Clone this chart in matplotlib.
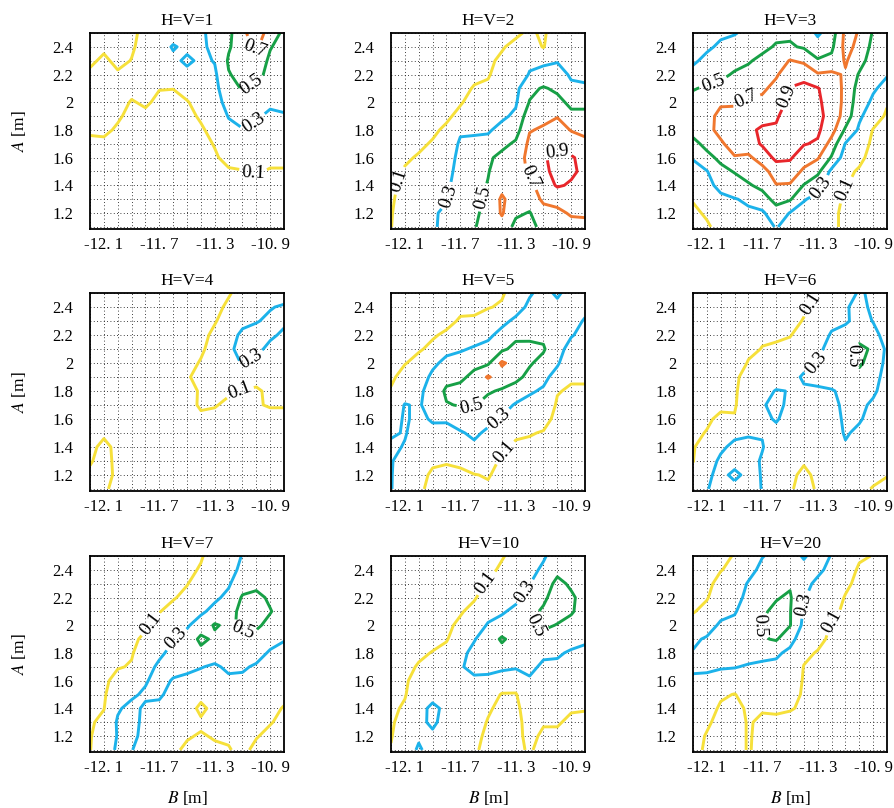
import numpy as np
import matplotlib
matplotlib.use("Agg")
import matplotlib.pyplot as plt
from matplotlib.ticker import MultipleLocator, FixedLocator

plt.rcParams["font.family"] = ["Liberation Serif", "DejaVu Serif"]
plt.rcParams["mathtext.fontset"] = "stix"

# grid of the field: B columns (left->right), A rows (top->bottom)
b_grid = np.linspace(-12.2, -10.8, 15)
a_grid = np.linspace(2.5, 1.1, 15)

levels = [0.1, 0.3, 0.5, 0.7, 0.9]
level_colors = ["#f6e03a", "#1cb2ea", "#17a046", "#f0772e", "#e8262b"]

titles = ["H=V=1", "H=V=2", "H=V=3", "H=V=4", "H=V=5", "H=V=6", "H=V=7", "H=V=10", "H=V=20"]
xtick_vals = [-12.1, -11.7, -11.3, -10.9]
xtick_text = ["-12. 1", "-11. 7", "-11. 3", "-10. 9"]
ytick_vals = [1.2, 1.4, 1.6, 1.8, 2.0, 2.2, 2.4]
ytick_text = ["1.2", "1.4", "1.6", "1.8", "2", "2.2", "2.4"]

# each inner list = one B column, values from A=2.5 down to A=1.1
z_hv1 = [
    [0.05, 0.05, 0.07, 0.13, 0.15, 0.16, 0.15, 0.12, 0.07, 0.05, 0.04, 0.03, 0.03, 0.03, 0.03],
    [0.05, 0.07, 0.13, 0.16, 0.17, 0.17, 0.16, 0.13, 0.07, 0.05, 0.04, 0.03, 0.03, 0.03, 0.03],
    [0.04, 0.05, 0.06, 0.12, 0.16, 0.15, 0.12, 0.08, 0.05, 0.04, 0.03, 0.03, 0.03, 0.03, 0.03],
    [0.07, 0.08, 0.105, 0.15, 0.14, 0.09, 0.06, 0.05, 0.04, 0.04, 0.03, 0.03, 0.03, 0.03, 0.03],
    [0.14, 0.16, 0.17, 0.17, 0.16, 0.12, 0.07, 0.05, 0.04, 0.04, 0.03, 0.03, 0.03, 0.03, 0.03],
    [0.18, 0.2, 0.2, 0.18, 0.105, 0.07, 0.05, 0.04, 0.04, 0.03, 0.03, 0.03, 0.03, 0.03, 0.03],
    [0.2, 0.32, 0.25, 0.2, 0.102, 0.07, 0.05, 0.04, 0.04, 0.03, 0.03, 0.03, 0.03, 0.03, 0.03],
    [0.22, 0.25, 0.34, 0.24, 0.16, 0.09, 0.06, 0.05, 0.04, 0.03, 0.03, 0.03, 0.03, 0.03, 0.03],
    [0.27, 0.27, 0.26, 0.24, 0.2, 0.16, 0.12, 0.08, 0.05, 0.04, 0.03, 0.03, 0.03, 0.03, 0.03],
    [0.36, 0.34, 0.31, 0.27, 0.24, 0.21, 0.18, 0.15, 0.11, 0.08, 0.05, 0.04, 0.03, 0.03, 0.03],
    [0.45, 0.48, 0.52, 0.49, 0.45, 0.38, 0.31, 0.25, 0.2, 0.15, 0.08, 0.05, 0.04, 0.03, 0.03],
    [0.66, 0.6, 0.58, 0.55, 0.51, 0.45, 0.37, 0.29, 0.24, 0.18, 0.09, 0.06, 0.04, 0.03, 0.03],
    [0.8, 0.74, 0.6, 0.55, 0.46, 0.4, 0.32, 0.27, 0.2, 0.15, 0.11, 0.06, 0.04, 0.03, 0.03],
    [0.62, 0.51, 0.47, 0.45, 0.4, 0.33, 0.27, 0.22, 0.18, 0.13, 0.09, 0.06, 0.04, 0.03, 0.03],
    [0.45, 0.44, 0.42, 0.4, 0.37, 0.33, 0.29, 0.24, 0.18, 0.13, 0.09, 0.06, 0.04, 0.03, 0.03],
]
z_hv2 = [
    [0.02, 0.02, 0.02, 0.02, 0.02, 0.03, 0.03, 0.03, 0.04, 0.05, 0.06, 0.07, 0.08, 0.09, 0.095],
    [0.02, 0.02, 0.02, 0.02, 0.03, 0.03, 0.04, 0.05, 0.06, 0.085, 0.11, 0.14, 0.16, 0.18, 0.2],
    [0.02, 0.02, 0.03, 0.03, 0.04, 0.05, 0.06, 0.07, 0.08, 0.11, 0.15, 0.18, 0.21, 0.24, 0.26],
    [0.02, 0.03, 0.03, 0.04, 0.05, 0.06, 0.07, 0.08, 0.11, 0.15, 0.2, 0.24, 0.26, 0.28, 0.28],
    [0.03, 0.04, 0.05, 0.05, 0.06, 0.07, 0.08, 0.12, 0.16, 0.2, 0.23, 0.26, 0.29, 0.33, 0.34],
    [0.04, 0.05, 0.06, 0.07, 0.08, 0.09, 0.13, 0.27, 0.33, 0.36, 0.38, 0.4, 0.42, 0.44, 0.45],
    [0.05, 0.06, 0.07, 0.085, 0.105, 0.14, 0.2, 0.28, 0.33, 0.37, 0.4, 0.43, 0.45, 0.47, 0.49],
    [0.06, 0.07, 0.08, 0.09, 0.12, 0.16, 0.22, 0.28, 0.35, 0.47, 0.49, 0.51, 0.54, 0.55, 0.56],
    [0.07, 0.09, 0.12, 0.15, 0.19, 0.24, 0.27, 0.35, 0.45, 0.55, 0.6, 0.64, 0.73, 0.72, 0.62],
    [0.08, 0.13, 0.17, 0.21, 0.25, 0.28, 0.33, 0.42, 0.53, 0.6, 0.64, 0.66, 0.6, 0.53, 0.45],
    [0.12, 0.18, 0.27, 0.31, 0.45, 0.51, 0.62, 0.69, 0.74, 0.76, 0.72, 0.65, 0.58, 0.49, 0.45],
    [0.08, 0.09, 0.27, 0.35, 0.52, 0.56, 0.66, 0.72, 0.82, 0.89, 0.87, 0.8, 0.74, 0.62, 0.55],
    [0.18, 0.25, 0.29, 0.36, 0.46, 0.56, 0.69, 0.78, 0.86, 0.93, 0.94, 0.92, 0.76, 0.66, 0.6],
    [0.2, 0.23, 0.27, 0.28, 0.33, 0.45, 0.55, 0.69, 0.8, 0.92, 0.93, 0.88, 0.8, 0.72, 0.64],
    [0.18, 0.2, 0.24, 0.27, 0.32, 0.45, 0.55, 0.66, 0.74, 0.84, 0.86, 0.83, 0.78, 0.72, 0.66],
]
z_hv3 = [
    [0.2, 0.23, 0.28, 0.34, 0.49, 0.55, 0.58, 0.56, 0.45, 0.31, 0.25, 0.18, 0.11, 0.07, 0.05],
    [0.22, 0.28, 0.33, 0.42, 0.52, 0.6, 0.65, 0.66, 0.55, 0.45, 0.29, 0.25, 0.18, 0.12, 0.08],
    [0.28, 0.32, 0.38, 0.46, 0.55, 0.68, 0.74, 0.74, 0.68, 0.54, 0.45, 0.35, 0.26, 0.2, 0.15],
    [0.29, 0.36, 0.44, 0.52, 0.6, 0.68, 0.75, 0.78, 0.76, 0.69, 0.51, 0.42, 0.29, 0.23, 0.18],
    [0.34, 0.4, 0.48, 0.56, 0.65, 0.72, 0.8, 0.86, 0.82, 0.66, 0.58, 0.48, 0.33, 0.27, 0.22],
    [0.38, 0.45, 0.55, 0.62, 0.67, 0.74, 0.83, 0.93, 0.92, 0.8, 0.62, 0.55, 0.42, 0.27, 0.23],
    [0.45, 0.52, 0.6, 0.68, 0.75, 0.8, 0.88, 0.92, 0.94, 0.94, 0.8, 0.69, 0.56, 0.42, 0.31],
    [0.47, 0.52, 0.71, 0.8, 0.91, 0.95, 0.98, 1.0, 0.97, 0.92, 0.82, 0.68, 0.52, 0.29, 0.24],
    [0.42, 0.48, 0.66, 0.86, 0.93, 0.95, 0.96, 0.94, 0.91, 0.8, 0.66, 0.49, 0.31, 0.25, 0.2],
    [0.27, 0.38, 0.52, 0.72, 0.91, 0.93, 0.95, 0.93, 0.88, 0.72, 0.55, 0.35, 0.26, 0.2, 0.17],
    [0.4, 0.46, 0.55, 0.74, 0.8, 0.82, 0.83, 0.78, 0.62, 0.48, 0.25, 0.22, 0.17, 0.14, 0.12],
    [0.75, 0.76, 0.72, 0.68, 0.66, 0.65, 0.62, 0.47, 0.29, 0.2, 0.14, 0.11, 0.07, 0.06, 0.08],
    [0.69, 0.65, 0.58, 0.48, 0.42, 0.38, 0.33, 0.27, 0.2, 0.14, 0.08, 0.05, 0.04, 0.04, 0.04],
    [0.48, 0.44, 0.4, 0.36, 0.32, 0.27, 0.2, 0.09, 0.06, 0.04, 0.04, 0.04, 0.04, 0.04, 0.04],
    [0.45, 0.4, 0.36, 0.31, 0.25, 0.12, 0.07, 0.05, 0.04, 0.04, 0.04, 0.04, 0.04, 0.04, 0.04],
]
z_hv4 = [
    [0.03, 0.03, 0.03, 0.03, 0.03, 0.03, 0.03, 0.04, 0.04, 0.05, 0.06, 0.07, 0.09, 0.12, 0.11],
    [0.03, 0.03, 0.03, 0.03, 0.03, 0.03, 0.04, 0.04, 0.05, 0.06, 0.08, 0.13, 0.14, 0.15, 0.12],
    [0.03, 0.03, 0.03, 0.03, 0.03, 0.03, 0.04, 0.04, 0.05, 0.05, 0.06, 0.07, 0.07, 0.07, 0.06],
    [0.03, 0.03, 0.03, 0.03, 0.03, 0.04, 0.04, 0.04, 0.04, 0.04, 0.05, 0.05, 0.05, 0.05, 0.05],
    [0.03, 0.03, 0.03, 0.03, 0.03, 0.04, 0.04, 0.04, 0.04, 0.04, 0.05, 0.05, 0.05, 0.05, 0.05],
    [0.03, 0.03, 0.03, 0.03, 0.03, 0.04, 0.04, 0.04, 0.04, 0.04, 0.05, 0.05, 0.05, 0.05, 0.05],
    [0.03, 0.03, 0.04, 0.04, 0.04, 0.04, 0.05, 0.05, 0.05, 0.05, 0.05, 0.05, 0.05, 0.05, 0.05],
    [0.04, 0.04, 0.04, 0.05, 0.05, 0.06, 0.09, 0.07, 0.05, 0.05, 0.05, 0.05, 0.05, 0.05, 0.05],
    [0.04, 0.05, 0.05, 0.06, 0.08, 0.11, 0.13, 0.11, 0.12, 0.07, 0.05, 0.05, 0.05, 0.05, 0.05],
    [0.07, 0.07, 0.09, 0.13, 0.15, 0.16, 0.16, 0.13, 0.11, 0.06, 0.05, 0.05, 0.05, 0.05, 0.05],
    [0.09, 0.12, 0.16, 0.22, 0.27, 0.24, 0.2, 0.12, 0.07, 0.05, 0.05, 0.05, 0.05, 0.05, 0.05],
    [0.14, 0.2, 0.25, 0.34, 0.35, 0.31, 0.2, 0.09, 0.05, 0.04, 0.04, 0.04, 0.04, 0.04, 0.04],
    [0.2, 0.26, 0.29, 0.36, 0.33, 0.26, 0.15, 0.08, 0.09, 0.05, 0.04, 0.04, 0.04, 0.04, 0.04],
    [0.24, 0.29, 0.33, 0.32, 0.27, 0.22, 0.17, 0.13, 0.11, 0.06, 0.04, 0.04, 0.04, 0.04, 0.04],
    [0.22, 0.32, 0.32, 0.28, 0.24, 0.2, 0.17, 0.14, 0.11, 0.06, 0.04, 0.04, 0.04, 0.04, 0.04],
]
z_hv5 = [
    [0.03, 0.03, 0.04, 0.05, 0.06, 0.07, 0.08, 0.11, 0.16, 0.22, 0.28, 0.33, 0.31, 0.31, 0.31],
    [0.03, 0.04, 0.05, 0.06, 0.08, 0.095, 0.14, 0.2, 0.31, 0.32, 0.31, 0.29, 0.24, 0.2, 0.17],
    [0.03, 0.05, 0.06, 0.08, 0.09, 0.13, 0.2, 0.26, 0.28, 0.26, 0.24, 0.2, 0.17, 0.14, 0.12],
    [0.03, 0.05, 0.07, 0.09, 0.12, 0.26, 0.34, 0.38, 0.38, 0.32, 0.25, 0.18, 0.12, 0.08, 0.07],
    [0.04, 0.06, 0.075, 0.115, 0.25, 0.35, 0.44, 0.53, 0.49, 0.33, 0.22, 0.15, 0.11, 0.07, 0.06],
    [0.05, 0.08, 0.11, 0.2, 0.28, 0.38, 0.46, 0.56, 0.51, 0.4, 0.28, 0.2, 0.12, 0.08, 0.06],
    [0.06, 0.085, 0.11, 0.22, 0.32, 0.45, 0.55, 0.58, 0.51, 0.42, 0.34, 0.26, 0.18, 0.095, 0.07],
    [0.07, 0.095, 0.14, 0.26, 0.36, 0.47, 0.72, 0.52, 0.44, 0.36, 0.26, 0.2, 0.15, 0.11, 0.08],
    [0.09, 0.11, 0.25, 0.36, 0.46, 0.73, 0.6, 0.48, 0.38, 0.28, 0.2, 0.13, 0.08, 0.06, 0.05],
    [0.14, 0.22, 0.34, 0.45, 0.56, 0.62, 0.55, 0.42, 0.28, 0.2, 0.12, 0.08, 0.06, 0.05, 0.05],
    [0.28, 0.34, 0.4, 0.46, 0.55, 0.52, 0.45, 0.32, 0.25, 0.18, 0.11, 0.07, 0.05, 0.05, 0.05],
    [0.36, 0.38, 0.42, 0.46, 0.52, 0.44, 0.34, 0.28, 0.22, 0.15, 0.09, 0.06, 0.05, 0.05, 0.05],
    [0.27, 0.35, 0.38, 0.37, 0.35, 0.32, 0.24, 0.11, 0.08, 0.06, 0.05, 0.05, 0.05, 0.05, 0.05],
    [0.38, 0.36, 0.34, 0.31, 0.25, 0.18, 0.12, 0.08, 0.06, 0.05, 0.05, 0.05, 0.05, 0.05, 0.05],
    [0.36, 0.33, 0.29, 0.26, 0.2, 0.15, 0.12, 0.08, 0.06, 0.05, 0.05, 0.05, 0.05, 0.05, 0.05],
]
z_hv6 = [
    [0.02, 0.02, 0.03, 0.03, 0.04, 0.04, 0.05, 0.05, 0.06, 0.07, 0.08, 0.09, 0.095, 0.14, 0.18],
    [0.02, 0.03, 0.03, 0.04, 0.04, 0.05, 0.05, 0.06, 0.07, 0.085, 0.105, 0.16, 0.22, 0.26, 0.29],
    [0.03, 0.03, 0.04, 0.04, 0.05, 0.05, 0.06, 0.07, 0.08, 0.12, 0.2, 0.27, 0.33, 0.36, 0.37],
    [0.03, 0.04, 0.04, 0.05, 0.05, 0.06, 0.07, 0.07, 0.08, 0.115, 0.26, 0.34, 0.38, 0.25, 0.37],
    [0.03, 0.04, 0.05, 0.06, 0.085, 0.105, 0.16, 0.22, 0.24, 0.26, 0.28, 0.35, 0.37, 0.36, 0.35],
    [0.04, 0.05, 0.06, 0.09, 0.1025, 0.16, 0.2, 0.24, 0.28, 0.25, 0.29, 0.31, 0.28, 0.29, 0.295],
    [0.05, 0.06, 0.07, 0.095, 0.105, 0.17, 0.21, 0.31, 0.36, 0.32, 0.24, 0.2, 0.17, 0.14, 0.12],
    [0.06, 0.07, 0.08, 0.095, 0.13, 0.17, 0.22, 0.295, 0.25, 0.22, 0.2, 0.17, 0.14, 0.12, 0.11],
    [0.08, 0.09, 0.104, 0.14, 0.18, 0.23, 0.33, 0.27, 0.24, 0.21, 0.19, 0.15, 0.11, 0.08, 0.07],
    [0.098, 0.13, 0.16, 0.2, 0.25, 0.31, 0.34, 0.28, 0.24, 0.22, 0.19, 0.16, 0.14, 0.12, 0.11],
    [0.16, 0.2, 0.25, 0.32, 0.38, 0.42, 0.43, 0.28, 0.25, 0.23, 0.2, 0.17, 0.15, 0.13, 0.12],
    [0.22, 0.29, 0.28, 0.36, 0.44, 0.46, 0.42, 0.36, 0.34, 0.33, 0.32, 0.28, 0.2, 0.17, 0.15],
    [0.32, 0.33, 0.35, 0.42, 0.55, 0.53, 0.44, 0.38, 0.34, 0.32, 0.26, 0.2, 0.17, 0.14, 0.12],
    [0.27, 0.28, 0.295, 0.34, 0.47, 0.42, 0.36, 0.33, 0.27, 0.23, 0.2, 0.17, 0.14, 0.12, 0.095],
    [0.22, 0.23, 0.24, 0.25, 0.26, 0.25, 0.24, 0.22, 0.2, 0.18, 0.16, 0.14, 0.12, 0.105, 0.07],
]
z_hv7 = [
    [0.02, 0.02, 0.02, 0.03, 0.03, 0.03, 0.04, 0.04, 0.05, 0.05, 0.06, 0.07, 0.08, 0.09, 0.095],
    [0.02, 0.02, 0.03, 0.03, 0.04, 0.04, 0.05, 0.05, 0.06, 0.07, 0.08, 0.095, 0.14, 0.18, 0.2],
    [0.03, 0.03, 0.04, 0.04, 0.05, 0.05, 0.06, 0.07, 0.09, 0.15, 0.22, 0.28, 0.32, 0.31, 0.33],
    [0.03, 0.04, 0.04, 0.05, 0.06, 0.07, 0.08, 0.09, 0.11, 0.2, 0.27, 0.35, 0.4, 0.38, 0.31],
    [0.03, 0.04, 0.05, 0.06, 0.07, 0.085, 0.12, 0.17, 0.22, 0.28, 0.33, 0.27, 0.22, 0.2, 0.18],
    [0.04, 0.05, 0.06, 0.075, 0.095, 0.14, 0.2, 0.26, 0.34, 0.38, 0.33, 0.25, 0.2, 0.17, 0.15],
    [0.05, 0.06, 0.07, 0.09, 0.14, 0.2, 0.29, 0.36, 0.38, 0.28, 0.23, 0.19, 0.16, 0.14, 0.12],
    [0.06, 0.075, 0.095, 0.13, 0.19, 0.28, 0.36, 0.42, 0.34, 0.26, 0.2, 0.16, 0.13, 0.11, 0.08],
    [0.09, 0.11, 0.15, 0.2, 0.27, 0.38, 0.55, 0.44, 0.31, 0.22, 0.14, 0.07, 0.12, 0.09, 0.07],
    [0.15, 0.18, 0.22, 0.27, 0.35, 0.52, 0.46, 0.4, 0.27, 0.21, 0.17, 0.14, 0.12, 0.11, 0.08],
    [0.2, 0.24, 0.28, 0.34, 0.42, 0.46, 0.45, 0.4, 0.34, 0.26, 0.2, 0.16, 0.13, 0.11, 0.095],
    [0.31, 0.34, 0.42, 0.52, 0.56, 0.54, 0.44, 0.38, 0.32, 0.27, 0.22, 0.18, 0.15, 0.13, 0.12],
    [0.34, 0.38, 0.45, 0.55, 0.58, 0.53, 0.44, 0.36, 0.28, 0.22, 0.18, 0.15, 0.12, 0.105, 0.08],
    [0.34, 0.37, 0.42, 0.47, 0.51, 0.45, 0.36, 0.28, 0.22, 0.18, 0.15, 0.12, 0.105, 0.08, 0.06],
    [0.33, 0.35, 0.38, 0.4, 0.42, 0.38, 0.31, 0.25, 0.2, 0.16, 0.12, 0.095, 0.08, 0.06, 0.05],
]
z_hv10 = [
    [0.02, 0.02, 0.02, 0.03, 0.03, 0.03, 0.04, 0.04, 0.05, 0.05, 0.06, 0.07, 0.08, 0.09, 0.11],
    [0.02, 0.02, 0.03, 0.03, 0.04, 0.04, 0.05, 0.06, 0.07, 0.08, 0.09, 0.12, 0.16, 0.2, 0.22],
    [0.03, 0.03, 0.04, 0.04, 0.05, 0.05, 0.06, 0.08, 0.11, 0.16, 0.2, 0.24, 0.26, 0.28, 0.32],
    [0.03, 0.04, 0.04, 0.05, 0.06, 0.07, 0.07, 0.105, 0.16, 0.2, 0.24, 0.34, 0.33, 0.27, 0.24],
    [0.04, 0.04, 0.05, 0.06, 0.07, 0.08, 0.09, 0.14, 0.19, 0.24, 0.27, 0.26, 0.24, 0.22, 0.2],
    [0.04, 0.05, 0.06, 0.07, 0.09, 0.12, 0.18, 0.26, 0.29, 0.27, 0.25, 0.22, 0.2, 0.17, 0.15],
    [0.05, 0.06, 0.07, 0.09, 0.13, 0.18, 0.29, 0.34, 0.33, 0.28, 0.24, 0.2, 0.17, 0.14, 0.12],
    [0.06, 0.07, 0.11, 0.15, 0.22, 0.32, 0.38, 0.44, 0.36, 0.25, 0.17, 0.12, 0.09, 0.07, 0.06],
    [0.09, 0.12, 0.16, 0.22, 0.28, 0.36, 0.53, 0.42, 0.34, 0.2, 0.09, 0.06, 0.05, 0.05, 0.05],
    [0.14, 0.17, 0.21, 0.26, 0.34, 0.4, 0.42, 0.38, 0.32, 0.18, 0.09, 0.07, 0.06, 0.07, 0.08],
    [0.21, 0.25, 0.295, 0.36, 0.44, 0.47, 0.45, 0.4, 0.34, 0.28, 0.22, 0.17, 0.15, 0.13, 0.11],
    [0.28, 0.33, 0.4, 0.46, 0.53, 0.54, 0.42, 0.33, 0.27, 0.23, 0.19, 0.15, 0.11, 0.08, 0.07],
    [0.38, 0.45, 0.55, 0.6, 0.58, 0.49, 0.4, 0.32, 0.27, 0.23, 0.19, 0.15, 0.11, 0.08, 0.06],
    [0.38, 0.42, 0.47, 0.53, 0.52, 0.44, 0.36, 0.28, 0.23, 0.19, 0.15, 0.11, 0.08, 0.06, 0.05],
    [0.36, 0.38, 0.4, 0.43, 0.42, 0.38, 0.32, 0.27, 0.22, 0.18, 0.14, 0.105, 0.08, 0.06, 0.05],
]
z_hv20 = [
    [0.03, 0.04, 0.05, 0.07, 0.09, 0.16, 0.27, 0.31, 0.32, 0.28, 0.24, 0.2, 0.17, 0.15, 0.14],
    [0.04, 0.05, 0.07, 0.09, 0.14, 0.22, 0.32, 0.36, 0.33, 0.26, 0.2, 0.16, 0.12, 0.09, 0.08],
    [0.06, 0.095, 0.14, 0.18, 0.24, 0.33, 0.38, 0.37, 0.32, 0.2, 0.12, 0.08, 0.06, 0.05, 0.05],
    [0.11, 0.13, 0.17, 0.22, 0.28, 0.36, 0.4, 0.38, 0.31, 0.19, 0.095, 0.06, 0.05, 0.05, 0.05],
    [0.16, 0.22, 0.32, 0.36, 0.42, 0.46, 0.44, 0.38, 0.28, 0.2, 0.15, 0.12, 0.11, 0.11, 0.11],
    [0.29, 0.36, 0.42, 0.45, 0.48, 0.51, 0.48, 0.36, 0.26, 0.2, 0.15, 0.11, 0.08, 0.07, 0.06],
    [0.36, 0.4, 0.45, 0.49, 0.53, 0.56, 0.52, 0.33, 0.26, 0.2, 0.15, 0.115, 0.08, 0.07, 0.06],
    [0.38, 0.42, 0.48, 0.52, 0.51, 0.51, 0.36, 0.26, 0.22, 0.17, 0.13, 0.105, 0.08, 0.07, 0.06],
    [0.28, 0.36, 0.34, 0.31, 0.28, 0.25, 0.2, 0.13, 0.095, 0.09, 0.09, 0.09, 0.07, 0.06, 0.05],
    [0.38, 0.33, 0.27, 0.24, 0.2, 0.17, 0.14, 0.09, 0.07, 0.06, 0.05, 0.05, 0.05, 0.05, 0.05],
    [0.29, 0.26, 0.22, 0.18, 0.14, 0.09, 0.07, 0.06, 0.05, 0.05, 0.05, 0.05, 0.05, 0.05, 0.05],
    [0.2, 0.17, 0.13, 0.09, 0.07, 0.06, 0.05, 0.05, 0.05, 0.05, 0.05, 0.05, 0.05, 0.05, 0.05],
    [0.12, 0.08, 0.06, 0.05, 0.05, 0.05, 0.05, 0.05, 0.05, 0.05, 0.05, 0.05, 0.05, 0.05, 0.05],
    [0.095, 0.06, 0.05, 0.05, 0.05, 0.05, 0.05, 0.05, 0.05, 0.05, 0.05, 0.05, 0.05, 0.05, 0.05],
    [0.07, 0.05, 0.05, 0.05, 0.05, 0.05, 0.05, 0.05, 0.05, 0.05, 0.05, 0.05, 0.05, 0.05, 0.05],
]
fields = [z_hv1, z_hv2, z_hv3, z_hv4, z_hv5, z_hv6, z_hv7, z_hv10, z_hv20]

# where the inline contour labels sit (B, A)
label_spots = [
    [(-11.02, 2.38), (-11.03, 2.12), (-11.02, 1.85), (-11.02, 1.49)],
    [(-12.13, 1.43), (-11.78, 1.32), (-11.56, 1.32), (-11.18, 1.47), (-11.0, 1.69)],
    [(-12.04, 2.1), (-11.81, 2.01), (-11.51, 2.04), (-11.29, 1.39), (-11.08, 1.36)],
    [(-11.02, 2.0), (-11.11, 1.76)],
    [(-11.62, 1.71), (-11.43, 1.61), (-11.39, 1.37)],
    [(-11.32, 2.4), (-11.29, 1.97), (-11.08, 2.05)],
    [(-11.74, 1.99), (-11.59, 1.91), (-11.12, 1.91)],
    [(-11.51, 2.3), (-11.23, 2.24), (-11.18, 1.97)],
    [(-11.73, 1.99), (-11.39, 2.15), (-11.19, 2.02)],
]

fig = plt.figure(figsize=(8.95, 8.08), dpi=100)
fig.patch.set_facecolor("white")

lefts = [0.1006, 0.4369, 0.7743]
bottoms = [0.7166, 0.3923, 0.0693]
heights = [0.2426, 0.245, 0.2426]
width = 0.2168

for k in range(9):
    row, col = divmod(k, 3)
    ax = fig.add_axes([lefts[col], bottoms[row], width, heights[row]])
    z = np.array(fields[k]).T
    cs = ax.contour(b_grid, a_grid[::-1], z[::-1], levels=levels,
                    colors=level_colors, linewidths=2.1)
    ax.clabel(cs, inline=True, fmt="%.1f", fontsize=13.5, colors="black",
              manual=label_spots[k], inline_spacing=3)

    ax.set_xlim(-12.2, -10.8)
    ax.set_ylim(1.085, 2.5)
    ax.xaxis.set_major_locator(FixedLocator(xtick_vals))
    ax.set_xticklabels(xtick_text)
    ax.yaxis.set_major_locator(FixedLocator(ytick_vals))
    ax.set_yticklabels(ytick_text)
    ax.xaxis.set_minor_locator(MultipleLocator(0.1))
    ax.yaxis.set_minor_locator(MultipleLocator(0.1))
    ax.grid(True, which="both", linestyle=(0, (1, 3)), linewidth=0.6, color="black")
    ax.set_axisbelow(True)
    ax.tick_params(which="both", length=0, labelsize=12)
    ax.tick_params(axis="y", pad=12)
    ax.tick_params(axis="x", pad=6)
    for sp in ax.spines.values():
        sp.set_linewidth(1.3)
        sp.set_color("black")

    ax.set_title(titles[k], fontsize=12.5, pad=6)
    if col == 0:
        ax.set_ylabel("$A$ [m]", fontsize=12.5)
        ax.yaxis.set_label_coords(-0.32, 0.5)
    if row == 2:
        ax.set_xlabel("$B$ [m]", fontsize=12.5)
        ax.xaxis.set_label_coords(0.5, -0.19)

fig.savefig("out.png", dpi=100, facecolor="white")
